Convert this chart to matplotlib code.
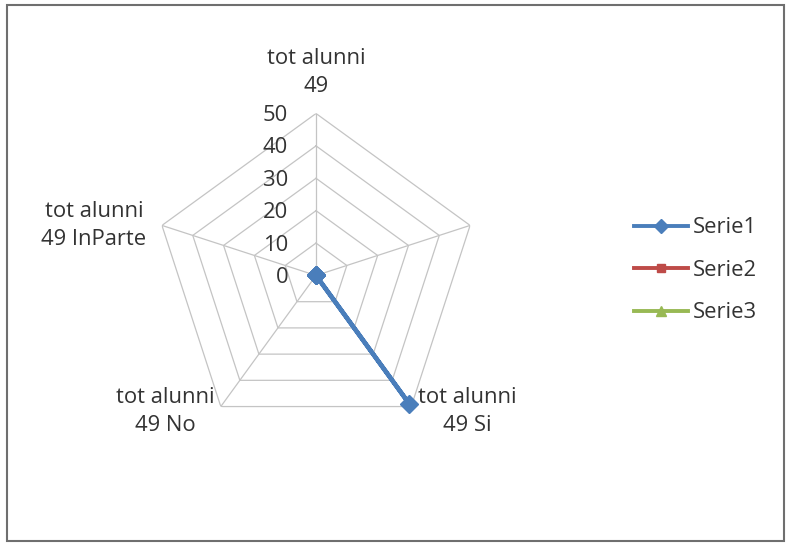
import numpy as np
import matplotlib
matplotlib.use("Agg")
import matplotlib.pyplot as plt
from matplotlib.patches import Rectangle
from matplotlib.lines import Line2D

# categories (clockwise from the top), second one has no label
categories = ["tot alunni\n49", "", "tot alunni\n49 Si", "tot alunni\n49 No", "tot alunni\n49 InParte"]
serie1 = [0, 0, 49, 0, 0]
serie2 = [np.nan] * 5
serie3 = [np.nan] * 5
ticks = [0, 10, 20, 30, 40, 50]
series_names = ["Serie1", "Serie2", "Serie3"]

plt.rcParams['font.family'] = ['Open Sans', 'DejaVu Sans']
FS = 15.8
TXT = "#333333"
GRID = "#c4c4c4"

fig = plt.figure(figsize=(7.87, 5.44), dpi=100)
ax = fig.add_axes([0.1957, 0.1958, 0.4117, 0.5956], projection='polar')
ax.set_theta_offset(np.pi / 2)
ax.set_theta_direction(-1)
ax.set_ylim(0, ticks[-1])
ax.grid(False)
ax.set_xticks([])
ax.set_yticks([])
ax.spines['polar'].set_visible(False)
ax.patch.set_alpha(0)

n = len(categories)
angles = np.linspace(0, 2 * np.pi, n, endpoint=False)
closed = np.append(angles, angles[0])

# pentagon grid rings and spokes
for t in ticks[1:]:
    ax.plot(closed, [t] * (n + 1), color=GRID, lw=0.9, zorder=1)
for a in angles:
    ax.plot([a, a], [0, ticks[-1]], color=GRID, lw=0.9, zorder=1)

# radial tick labels along the top spoke
for t in ticks:
    ax.annotate(str(t), xy=(0, t), xytext=(-28, -2), textcoords='offset pixels',
                ha='right', va='center', fontsize=FS, color=TXT)

# category labels
offsets = [(0, 41), (0, 0), (56, -5), (-55, -5), (-68, 0)]
for a, lab, off in zip(angles, categories, offsets):
    if not lab:
        continue
    ax.annotate(lab, xy=(a, ticks[-1]), xytext=off, textcoords='offset pixels',
                ha='center', va='center', multialignment='center',
                fontsize=FS, color=TXT, linespacing=1.45)

styles = [("#4a7ebb", 'D', 9.5), ("#be4b48", 's', 8), ("#98b954", '^', 9)]
for vals, (c, m, ms) in zip([serie1, serie2, serie3], styles):
    v = np.append(vals, vals[0])
    ax.plot(closed, v, color=c, lw=3.2, marker=m, markersize=ms, zorder=3, clip_on=False)

handles = [Line2D([], [], color=c, lw=2.8, marker=m, markersize=ms * 0.75)
           for c, m, ms in styles]
fig.legend(handles, series_names, loc='center left', bbox_to_anchor=(0.806, 0.503),
           frameon=False, fontsize=FS, handlelength=2.45, handletextpad=0.2,
           labelspacing=0.98, borderpad=0, borderaxespad=0, labelcolor=TXT)

# chart area border
fig.patches.append(Rectangle((0.0089, 0.0055), 0.987, 0.985, transform=fig.transFigure,
                             fill=False, edgecolor="#6f6f6f", lw=1.5))

fig.savefig("out.png", dpi=100)
